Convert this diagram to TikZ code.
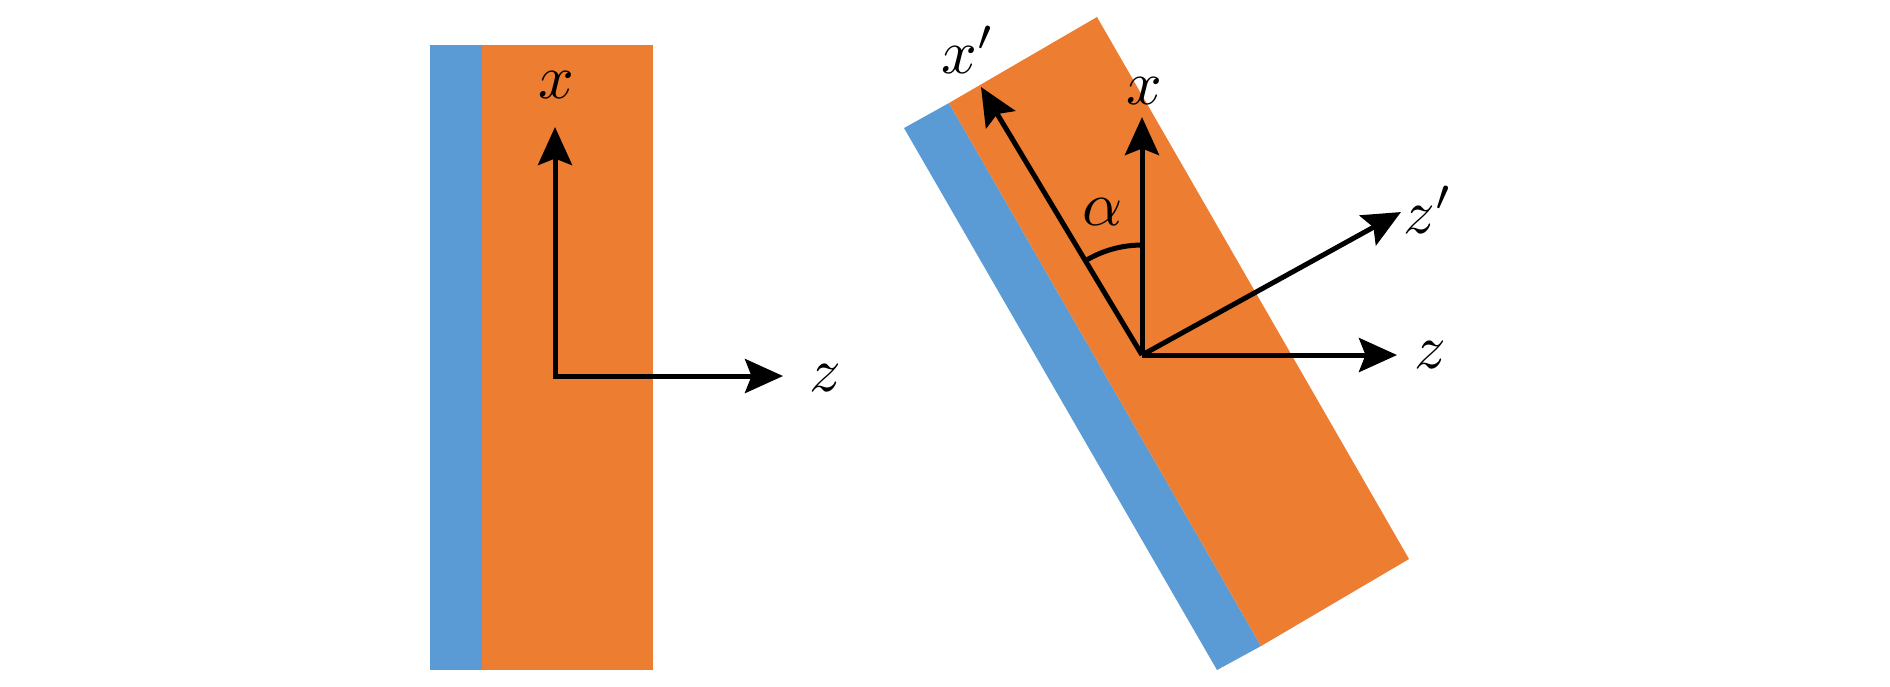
\documentclass[tikz,border=0pt]{standalone}
\usepackage{amsmath}
\usepackage{graphicx}
\usetikzlibrary{arrows.meta}
\definecolor{filmblue}{HTML}{5B9BD5}
\definecolor{filmorange}{HTML}{ED7D31}
\newcommand{\axlab}[1]{\scalebox{1.25}{$#1$}}

\begin{document}
\begin{tikzpicture}[x=0.2pt,y=-0.2pt,>={Stealth[length=7.6pt,width=6.8pt,inset=1.3pt]},
    axis/.style={->,line width=1pt},
    lbl/.style={inner sep=0pt}]
    \useasboundingbox (0,0) rectangle (1890,686);

    % film, upright
    \fill[filmblue]   (430,45) rectangle (482,670);
    \fill[filmorange] (482,45) rectangle (653,670);
    % film, turned by alpha
    \fill[filmblue]   (904,128) -- (949,103) -- (1261,646) -- (1217,670) -- cycle;
    \fill[filmorange] (949,103) -- (1097,17) -- (1409,559) -- (1261,646) -- cycle;

    \coordinate (o1) at (555,376);
    \coordinate (x1) at (555,127);
    \coordinate (z1) at (783,376);
    \coordinate (o2) at (1142,355);
    \coordinate (x2) at (1142,117);
    \coordinate (z2) at (1397,355);
    \coordinate (xp) at (981,87);
    \coordinate (zp) at (1401,212);

    \node[lbl] (lx1) at (556,85)  {\axlab{x}};
    \node[lbl] (lz1) at (825,378) {\axlab{z}};
    \node[lbl] (lx2) at (1144,91) {\axlab{x}};
    \node[lbl] (lz2) at (1430,355) {\axlab{z}};
    \node[lbl] (lxp) at (968,50)  {\axlab{x'}};
    \node[lbl] (lzp) at (1428,210) {\axlab{z'}};
    \node[lbl] (la)  at (1103,212) {\axlab{\alpha}};

    \draw[axis,<->] (x1) -- (o1) -- (z1);
    \draw[axis] (o2) -- (x2);
    \draw[axis] (o2) -- (z2);
    \draw[axis] (o2) -- (xp);
    \draw[axis] (o2) -- (zp);
    \draw[line width=1pt] (o2) ++(0,-110) arc[start angle=-90,end angle=-121,radius=110];
\end{tikzpicture}
\end{document}
